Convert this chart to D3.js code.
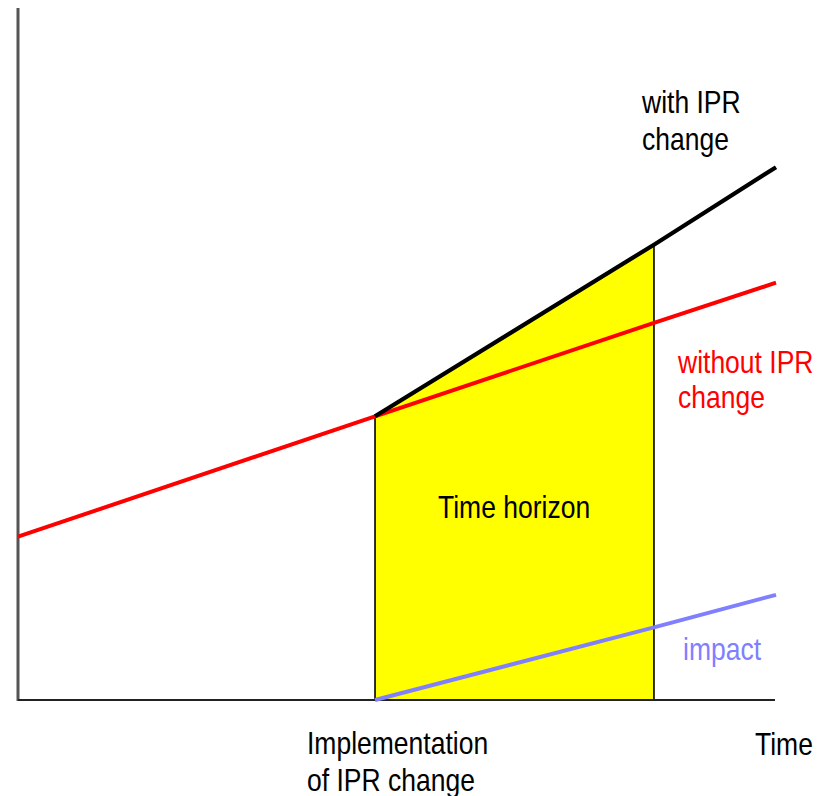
<!DOCTYPE html>
<html><head><meta charset="utf-8">
<script src="https://cdn.jsdelivr.net/npm/d3@7"></script>
<style>body{margin:0;background:#fff}svg{display:block}</style>
</head><body>
<svg id="c" width="822" height="796"></svg>
<script>
// Data (schematic time units)
const times       = [0, 4.71, 8.39, 10];
const withoutIPR  = [23.6, 41.0, 54.5, 60.3];
const withIPR     = [null, 41.0, 65.8, 77.0];
const impact      = [null, 0, 10.5, 15.2];
const implementationTime = 4.71;
const horizonEnd = 8.39;
const labels = {
  withIPR: ["with IPR", "change"],
  withoutIPR: ["without IPR", "change"],
  impact: "impact",
  horizon: "Time horizon",
  xTitle: "Time",
  impl: ["Implementation", "of IPR change"]
};

const svg = d3.select("#c");
const x = d3.scaleLinear().domain([0, 10]).range([18, 776]);
const y = d3.scaleLinear().domain([0, 100]).range([700, 8]);

const pts = arr => times.map((t, i) => [t, arr[i]]).filter(d => d[1] !== null);
const line = d3.line().x(d => x(d[0])).y(d => y(d[1]));

// Yellow time-horizon area (under the "with IPR" line)
const withPts = pts(withIPR).filter(d => d[0] <= horizonEnd);
const area = d3.area().x(d => x(d[0])).y0(y(0)).y1(d => y(d[1]));
svg.append("path").datum(withPts).attr("d", area).attr("fill", "#ffff00");
// vertical borders
withPts.filter(d => d[0] === implementationTime || d[0] === horizonEnd).forEach(d => {
  svg.append("line").attr("x1", x(d[0])).attr("x2", x(d[0]))
    .attr("y1", y(d[1])).attr("y2", y(0))
    .attr("stroke", "#000").attr("stroke-width", 1.6);
});

// Axes
svg.append("line").attr("x1", x(0)).attr("x2", x(0)).attr("y1", y(100)).attr("y2", y(0) + 1)
  .attr("stroke", "#555").attr("stroke-width", 3);
svg.append("line").attr("x1", x(0)).attr("x2", x(10) - 1).attr("y1", y(0)).attr("y2", y(0))
  .attr("stroke", "#222").attr("stroke-width", 2.2);

// Lines
svg.append("path").datum(pts(withoutIPR)).attr("d", line)
  .attr("fill", "none").attr("stroke", "#ff0000").attr("stroke-width", 4);
svg.append("path").datum(pts(withIPR)).attr("d", line)
  .attr("fill", "none").attr("stroke", "#000").attr("stroke-width", 4.2);
svg.append("path").datum(pts(impact)).attr("d", line)
  .attr("fill", "none").attr("stroke", "#8080ff").attr("stroke-width", 4);

// Text
function txt(str, px, py, color, anchor) {
  svg.append("text")
    .attr("transform", `translate(${px},${py}) scale(1,1.15)`)
    .attr("font-family", "'Liberation Sans', Arial, sans-serif")
    .attr("font-size", 26.5)
    .attr("fill", color)
    .attr("text-anchor", anchor || "start")
    .text(str);
}
txt(labels.withIPR[0], 642, 113, "#000");
txt(labels.withIPR[1], 642, 150, "#000");
txt(labels.withoutIPR[0], 678, 373, "#ff0000");
txt(labels.withoutIPR[1], 678, 408, "#ff0000");
txt(labels.impact, 683, 660, "#8080ff");
txt(labels.horizon, 438, 518, "#000");
txt(labels.xTitle, 755, 755, "#000");
txt(labels.impl[0], 307, 754, "#000");
txt(labels.impl[1], 307, 791, "#000");
</script>
</body></html>
